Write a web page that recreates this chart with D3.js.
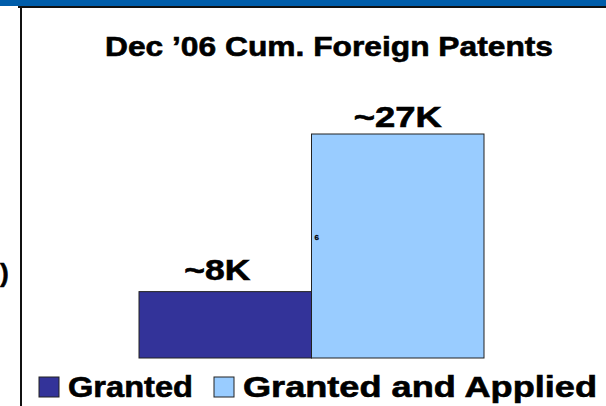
<!DOCTYPE html>
<html><head><meta charset="utf-8">
<script src="https://d3js.org/d3.v7.min.js"></script>
<style>body{margin:0;background:#fff}svg{display:block}text{font-family:"Liberation Sans",Arial,sans-serif;font-weight:bold;fill:#000;stroke:#000;stroke-width:0.6px}</style>
</head><body>
<script>
const categories = ["Granted", "Granted and Applied"];
const values = [8, 27]; // thousands of patents
const valueLabels = ["~8K", "~27K"];
const colors = ["#333399", "#99CCFF"];
const title = "Dec \u201906 Cum. Foreign Patents";

const W = 606, H = 406;
const svg = d3.select("body").append("svg").attr("width", W).attr("height", H);

// slide frame
svg.append("rect").attr("x",0).attr("y",0).attr("width",W).attr("height",6).attr("fill","#005DAA");
svg.append("rect").attr("x",18).attr("y",6).attr("width",W-18).attr("height",2).attr("fill","#111");
svg.append("rect").attr("x",20).attr("y",6).attr("width",2).attr("height",H-6).attr("fill","#111");
svg.append("text").attr("x",0).attr("y",282).attr("font-size",26).text(")");

const x = d3.scaleBand().domain(categories).range([139, 484]).padding(0);
const y = d3.scaleLinear().domain([0, 27]).range([358, 134]);

svg.append("text").attr("x",105).attr("y",56).attr("font-size",28)
  .attr("textLength",448).attr("lengthAdjust","spacingAndGlyphs").text(title);

svg.selectAll("rect.bar").data(categories).join("rect").attr("class","bar")
  .attr("x", d => x(d)).attr("width", x.bandwidth())
  .attr("y", (d,i) => y(values[i])).attr("height", (d,i) => y(0) - y(values[i]))
  .attr("fill", (d,i) => colors[i]).attr("stroke", "#222").attr("stroke-width", 1);

const lw = [66, 88], lgap = [12, 7], lshift = [-8, 0];
svg.selectAll("text.val").data(categories).join("text").attr("class","val")
  .attr("x", (d,i) => x(d) + x.bandwidth()/2 + lshift[i])
  .attr("y", (d,i) => y(values[i]) - lgap[i])
  .attr("text-anchor","middle").attr("font-size",29)
  .attr("textLength",(d,i)=>lw[i]).attr("lengthAdjust","spacingAndGlyphs")
  .text((d,i) => valueLabels[i]);

svg.append("text").attr("x", x(categories[1]) + 3).attr("y", 240).attr("font-size", 8)
  .style("stroke-width","0.3px").text("6");

// legend
const legX = [39, 214], legTW = [125, 354];
const leg = svg.selectAll("g.leg").data(categories).join("g").attr("class","leg");
leg.append("rect").attr("x",(d,i)=>legX[i]).attr("y",377).attr("width",20).attr("height",20)
  .attr("fill",(d,i)=>colors[i]).attr("stroke","#222").attr("stroke-width",1);
leg.append("text").attr("x",(d,i)=>legX[i]+29).attr("y",397).attr("font-size",29)
  .attr("textLength",(d,i)=>legTW[i]).attr("lengthAdjust","spacingAndGlyphs").text(d=>d);
</script>
</body></html>
